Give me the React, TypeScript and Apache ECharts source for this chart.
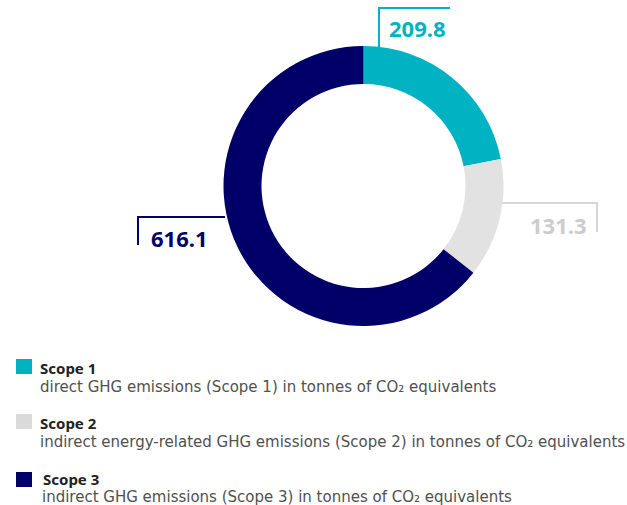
import React, { useEffect, useRef } from "react";
import * as echarts from "echarts";

const categories = ["Scope 1", "Scope 2", "Scope 3"];
const values = [209.8, 131.3, 616.1];
const descriptions = [
  "direct GHG emissions (Scope 1) in tonnes of CO₂ equivalents",
  "indirect energy-related GHG emissions (Scope 2) in tonnes of CO₂ equivalents",
  "indirect GHG emissions (Scope 3) in tonnes of CO₂ equivalents",
];
const colors = ["#00b2c2", "#e2e2e2", "#000068"];
const labelColors = ["#00b2c2", "#cccccc", "#000068"];
const lineColors = ["#00b2c2", "#d6d6d6", "#000068"];

// label placement (pixels)
const labelPos = [
  { x: 389, y: 28, pts: [[379, 47], [379, 8], [450, 8]] },
  { x: 530, y: 225, pts: [[502, 203], [597, 203], [597, 232]] },
  { x: 151, y: 238, pts: [[225, 217], [138, 217], [138, 245]] },
];
const legendPos = [
  { sq: 359, title: 368, titleX: 40, desc: 387, descX: 40 },
  { sq: 414, title: 423, titleX: 40, desc: 442, descX: 40 },
  { sq: 472, title: 479, titleX: 43, desc: 497, descX: 42 },
];

export default function App() {
  const ref = useRef<HTMLDivElement>(null);
  useEffect(() => {
    if (!ref.current) return;
    const chart = echarts.init(ref.current, null, { renderer: "svg" });
    const graphics: any[] = [];
    categories.forEach((c, i) => {
      const p = legendPos[i];
      graphics.push({
        type: "rect",
        shape: { x: 16, y: p.sq, width: 16, height: 15 },
        style: { fill: colors[i] === "#e2e2e2" ? "#dadada" : colors[i] },
      });
      graphics.push({
        type: "text",
        x: p.titleX,
        y: p.title,
        style: {
          text: c,
          fill: "#222222",
          font: "bold 15px 'Noto Sans'",
          verticalAlign: "middle",
          align: "left",
        },
      });
      graphics.push({
        type: "text",
        x: p.descX,
        y: p.desc,
        style: {
          text: descriptions[i],
          fill: "#505050",
          font: "15px 'DejaVu Sans'",
          verticalAlign: "middle",
          align: "left",
        },
      });
    });
    chart.setOption({
      animation: false,
      backgroundColor: "#ffffff",
      graphic: graphics,
      series: [
        {
          type: "pie",
          center: [363.5, 186],
          radius: [102, 140],
          startAngle: 90,
          clockwise: true,
          silent: true,
          data: categories.map((c, i) => ({
            name: c,
            value: values[i],
            itemStyle: { color: colors[i] },
            label: { color: labelColors[i] },
            labelLine: { lineStyle: { color: lineColors[i], width: 2 } },
          })),
          label: {
            show: true,
            formatter: (p: any) => p.value.toFixed(1),
            fontFamily: "Noto Sans",
            fontWeight: "bold",
            fontSize: 22,
          },
          labelLine: { show: true, smooth: false },
          labelLayout: (params: any) => {
            const lp = labelPos[params.dataIndex];
            return {
              x: lp.x,
              y: lp.y,
              align: "left",
              verticalAlign: "middle",
              labelLinePoints: lp.pts,
            };
          },
        },
      ],
    });
    return () => chart.dispose();
  }, []);
  return (
    <div
      ref={ref}
      style={{ position: "fixed", left: 0, top: 0, width: 627, height: 505 }}
    />
  );
}
